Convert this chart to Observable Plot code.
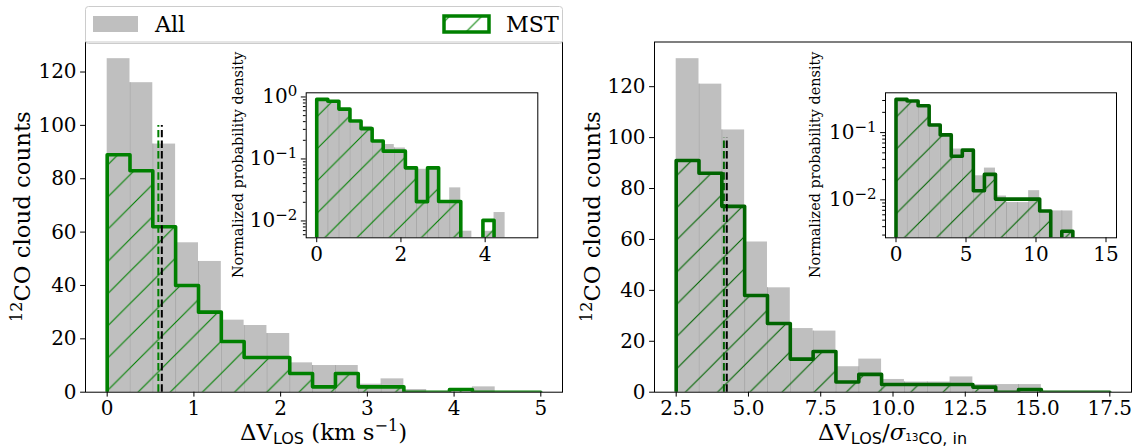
<!DOCTYPE html>
<html><head><meta charset="utf-8">
<script src="https://cdn.jsdelivr.net/npm/d3@7"></script>
<script src="https://cdn.jsdelivr.net/npm/@observablehq/plot@0.6"></script>
<style>
body{margin:0;background:#fff;}
#root{position:relative;width:1133px;height:448px;overflow:hidden;font-family:"DejaVu Serif",serif;}
#root svg{position:absolute;overflow:visible;max-width:none;}
</style></head><body><div id="root"></div>
<script>
// ---------- data ----------
const legendLabels = ["All", "MST"];
const leftEdges = [0, 0.263, 0.526, 0.789, 1.053, 1.316, 1.579, 1.842, 2.105, 2.368, 2.632, 2.895, 3.158, 3.421, 3.684, 3.947, 4.211, 4.474, 4.737, 5];
const leftAll = [125, 116, 93, 56, 49, 27, 25, 22, 11, 10, 10, 3, 5, 1, 0, 1, 2, 0, 0];
const leftMST = [89, 83, 62, 40, 30, 19, 13, 13, 7, 2, 7, 2, 2, 0, 0, 1, 0, 0, 0];
const rightEdges = [2.5, 3.289, 4.079, 4.868, 5.658, 6.447, 7.237, 8.026, 8.816, 9.605, 10.395, 11.184, 11.974, 12.763, 13.553, 14.342, 15.132, 15.921, 16.711, 17.5];
const insetRightEdges = [0, 0.789, 1.579, 2.368, 3.158, 3.947, 4.737, 5.526, 6.316, 7.105, 7.895, 8.684, 9.474, 10.263, 11.053, 11.842, 12.632, 13.421, 14.211, 15];
const rightAll = [131, 121, 103, 59, 41, 25, 24, 10, 13, 5, 4, 4, 6, 3, 3, 3, 0, 0, 0];
const rightMST = [91, 86, 73, 38, 27, 13, 16, 4, 7, 3, 3, 3, 3, 2, 0, 1, 0, 0, 0];
const leftMedians = {mst: 0.59, all: 0.63};
const rightMedians = {mst: 4.15, all: 4.25};
const medianTop = 100;
const yTicks = [0, 20, 40, 60, 80, 100, 120];
const leftXTicks = [0, 1, 2, 3, 4, 5];
const rightXTicks = [2.5, 5, 7.5, 10, 12.5, 15, 17.5];
const insetLeftXTicks = [0, 2, 4];
const insetRightXTicks = [0, 5, 10, 15];
const insetLeftYTicks = [1, 0.1, 0.01];
const insetLeftYExps = ["0", "−1", "−2"];
const insetRightYTicks = [0.1, 0.01];
const insetRightYExps = ["−1", "−2"];

// ---------- style ----------
const GRAY = "#bfbfbf", EDGE = "#a9a9a9";
const GREEN_L = "#008000", GREEN_R = "#006400";
const FONT = "'DejaVu Serif', serif";
const TICK_FS = 20, LABEL_FS = 22.8, INSET_LABEL_FS = 14.4;
const HATCH = 32.2, HATCH_PHASE = 15;
const FLOOR = 1e-5;
const root = d3.select("#root");

function bars(edges, counts) {
  return counts.map((c, i) => ({x1: edges[i], x2: edges[i + 1], y: c})).filter(d => d.y > 0);
}
function seps(edges, counts) {
  const out = [];
  for (let k = 1; k < counts.length; k++) {
    const m = Math.min(counts[k - 1], counts[k]);
    if (m > 0) out.push({x: edges[k], y: m});
  }
  return out;
}
function step(edges, counts, floor) {
  const pts = [{x: edges[0], y: floor}];
  counts.forEach((c, i) => pts.push({x: edges[i], y: c > 0 ? c : floor}));
  pts.push({x: edges[edges.length - 1], y: floor});
  return pts;
}
function density(edges, counts) {
  const n = d3.sum(counts);
  return counts.map((c, i) => c / (n * (edges[i + 1] - edges[i])));
}
function hatchDef(id, color, left, top) {
  const tx = (((HATCH_PHASE - left - top) % HATCH) + HATCH) % HATCH;
  return `<pattern id="${id}" patternUnits="userSpaceOnUse" width="${HATCH}" height="${HATCH}" patternTransform="translate(${tx},0)">` +
    `<path d="M-2,2 L2,-2 M0,${HATCH} L${HATCH},0 M${HATCH - 2},${HATCH + 2} L${HATCH + 2},${HATCH - 2}" stroke="${color}" stroke-width="1.1" fill="none"/></pattern>`;
}
function place(svg, left, top) {
  svg.style.left = left + "px";
  svg.style.top = top + "px";
  root.node().appendChild(svg);
}

const TOP = 41.5, BOTTOM = 391.7;

function mainPlot(o) {
  const svg = Plot.plot({
    width: o.width, height: 448,
    marginLeft: o.ml, marginRight: o.mr, marginTop: TOP, marginBottom: 448 - BOTTOM,
    x: {domain: o.xDomain},
    y: {domain: o.yDomain},
    style: {fontFamily: FONT, fontSize: TICK_FS + "px", color: "black", background: "transparent", overflow: "visible"},
    marks: [
      Plot.rectY(bars(o.edges, o.all), {x1: "x1", x2: "x2", y1: 0, y2: "y", fill: GRAY}),
      Plot.ruleX(seps(o.edges, o.all), {x: "x", y1: 0, y2: "y", stroke: EDGE, strokeWidth: 1}),
      Plot.area(step(o.edges, o.mst, 0), {x1: "x", y1: 0, y2: "y", curve: "step-after", fill: `url(#${o.hatch})`}),
      Plot.line(step(o.edges, o.mst, 0), {x: "x", y: "y", curve: "step-after", stroke: o.green, strokeWidth: 3.6, clip: true}),
      Plot.ruleX([o.medians.mst], {y1: 0, y2: medianTop, stroke: o.green, strokeWidth: 2, strokeDasharray: "7.4,3.2"}),
      Plot.ruleX([o.medians.all], {y1: 0, y2: medianTop, stroke: "black", strokeWidth: 2, strokeDasharray: "7.4,3.2"}),
      Plot.axisX({ticks: o.xTicks, tickFormat: o.xFmt, tickSize: 4.9, tickPadding: 4, label: null, fontSize: TICK_FS}),
      Plot.axisY({ticks: yTicks, tickFormat: d => String(d), tickSize: 4.9, tickPadding: 4, label: null, fontSize: TICK_FS}),
      Plot.frame({stroke: "black", strokeWidth: 1})
    ]
  });
  d3.select(svg).insert("defs", ":first-child").html(hatchDef(o.hatch, o.green, o.left, 0));
  place(svg, o.left, 0);
  return svg;
}

function insetPlot(o) {
  const dAll = density(o.edges, o.all), dMst = density(o.edges, o.mst);
  const minor = [];
  for (let e = -4; e <= 0; e++) for (let m = 2; m <= 9; m++) {
    const v = m * Math.pow(10, e);
    if (v > o.yDomain[0] && v < o.yDomain[1]) minor.push(v);
  }
  const svg = Plot.plot({
    width: o.width, height: o.height,
    marginLeft: o.ml, marginRight: o.mr, marginTop: o.mt, marginBottom: o.mb,
    x: {domain: o.xDomain},
    y: {type: "log", domain: o.yDomain},
    style: {fontFamily: FONT, fontSize: TICK_FS + "px", color: "black", background: "transparent", overflow: "visible"},
    marks: [
      Plot.frame({fill: "white", stroke: "none"}),
      Plot.rectY(bars(o.edges, dAll), {x1: "x1", x2: "x2", y1: FLOOR, y2: "y", fill: GRAY, clip: true}),
      Plot.ruleX(seps(o.edges, dAll), {x: "x", y1: FLOOR, y2: "y", stroke: EDGE, strokeWidth: 1, clip: true}),
      Plot.area(step(o.edges, dMst, FLOOR), {x1: "x", y1: FLOOR, y2: "y", curve: "step-after", fill: `url(#${o.hatch})`, clip: true}),
      Plot.line(step(o.edges, dMst, FLOOR), {x: "x", y: "y", curve: "step-after", stroke: o.green, strokeWidth: 3.6, clip: true}),
      Plot.axisX({ticks: o.xTicks, tickFormat: d => String(d), tickSize: 4.9, tickPadding: 4, label: null, fontSize: TICK_FS}),
      Plot.axisY({ticks: o.yTicks, tickFormat: d => "10^" + o.yExps[o.yTicks.indexOf(d)], tickSize: 4.9, tickPadding: 4, label: null, fontSize: TICK_FS}),
      Plot.axisY({ticks: minor, tickFormat: () => "", tickSize: 2.8, tickPadding: 0, label: null}),
      Plot.frame({stroke: "black", strokeWidth: 1})
    ]
  });
  const s = d3.select(svg);
  s.insert("defs", ":first-child").html(hatchDef(o.hatch, o.green, o.left, o.top));
  s.selectAll("text").each(function () {
    const str = this.textContent;
    if (str.startsWith("10^")) {
      this.textContent = "10";
      d3.select(this).append("tspan").attr("dy", "-0.5em").attr("font-size", 15).text(str.slice(3));
    }
  });
  place(svg, o.left, o.top);
  s.append("text")
    .attr("transform", `translate(${o.labelX},${o.mt + (o.height - o.mt - o.mb) / 2}) rotate(-90)`)
    .attr("text-anchor", "middle").attr("font-size", INSET_LABEL_FS).attr("font-family", FONT).attr("fill", "black")
    .text("Normalized probability density");
  return svg;
}

function yLabel(svg, x) {
  const t = d3.select(svg).append("text")
    .attr("transform", `translate(${x},${(TOP + BOTTOM) / 2}) rotate(-90)`)
    .attr("text-anchor", "middle").attr("font-size", LABEL_FS).attr("font-family", FONT).attr("fill", "black");
  t.append("tspan").attr("font-size", 16).attr("dy", -8).text("12");
  t.append("tspan").attr("dy", 8).text("CO cloud counts");
}

// ---------- left panel ----------
const L = mainPlot({
  left: 0, width: 566, ml: 85, mr: 4,
  edges: leftEdges, all: leftAll, mst: leftMST,
  xDomain: [-0.25, 5.25], yDomain: [0, 131.25],
  xTicks: leftXTicks, xFmt: d => String(d), medians: leftMedians,
  green: GREEN_L, hatch: "hatchL"
});
yLabel(L, 30);
{
  const t = d3.select(L).append("text").attr("x", (85 + 562) / 2).attr("y", 440)
    .attr("text-anchor", "middle").attr("font-size", LABEL_FS).attr("font-family", FONT).attr("fill", "black");
  t.append("tspan").text("ΔV");
  t.append("tspan").attr("dy", 3.5).attr("font-size", 16).attr("font-family", "'DejaVu Sans', sans-serif").text("LOS");
  t.append("tspan").attr("dy", -3.5).text(" (km s");
  t.append("tspan").attr("dy", -9).attr("font-size", 16).text("−1");
  t.append("tspan").attr("dy", 9).text(")");
}

// ---------- right panel ----------
const R = mainPlot({
  left: 566, width: 567, ml: 88, mr: 2,
  edges: rightEdges, all: rightAll, mst: rightMST,
  xDomain: [1.75, 18.25], yDomain: [0, 137.55],
  xTicks: rightXTicks, xFmt: d3.format(".1f"), medians: rightMedians,
  green: GREEN_R, hatch: "hatchR"
});
yLabel(R, 600 - 566);
{
  const t = d3.select(R).append("text").attr("x", (654 + 1131) / 2 - 566).attr("y", 440)
    .attr("text-anchor", "middle").attr("font-size", LABEL_FS).attr("font-family", FONT).attr("fill", "black");
  t.append("tspan").text("ΔV");
  t.append("tspan").attr("dy", 3.5).attr("font-size", 16).attr("font-family", "'DejaVu Sans', sans-serif").text("LOS");
  t.append("tspan").attr("dy", -3.5).text("/");
  t.append("tspan").attr("font-style", "italic").text("σ");
  t.append("tspan").attr("dy", 0.5).attr("font-size", 10.5).attr("font-family", "'DejaVu Sans', sans-serif").text("13");
  t.append("tspan").attr("dy", 3).attr("font-size", 16).attr("font-family", "'DejaVu Sans', sans-serif").text("CO, in");
}

// ---------- insets ----------
insetPlot({
  left: 220, top: 60, width: 340, height: 215, ml: 85.7, mr: 22.7, mt: 32.3, mb: 37.7,
  edges: leftEdges, all: leftAll, mst: leftMST,
  xDomain: [-0.25, 5.25], yDomain: [0.005352, 1.1674],
  xTicks: insetLeftXTicks, yTicks: insetLeftYTicks, yExps: insetLeftYExps,
  green: GREEN_L, hatch: "hatchLI", labelX: 23
});
insetPlot({
  left: 800, top: 60, width: 333, height: 215, ml: 85, mr: 17, mt: 32.3, mb: 37.7,
  edges: insetRightEdges, all: rightAll, mst: rightMST,
  xDomain: [-0.75, 15.75], yDomain: [0.002732, 0.3904],
  xTicks: insetRightXTicks, yTicks: insetRightYTicks, yExps: insetRightYExps,
  green: GREEN_R, hatch: "hatchRI", labelX: 20
});

// ---------- legend ----------
{
  const lg = root.append("svg").attr("width", 480).attr("height", 40)
    .style("left", "84px").style("top", "5px");
  lg.append("defs").html(hatchDef("hatchLeg", GREEN_L, 84, 5));
  lg.append("rect").attr("x", 1.5).attr("y", 1.5).attr("width", 477).attr("height", 37).attr("rx", 3)
    .attr("fill", "rgba(255,255,255,0.8)").attr("stroke", "#cccccc").attr("stroke-width", 1);
  lg.append("rect").attr("x", 9).attr("y", 11).attr("width", 45).attr("height", 16).attr("fill", GRAY);
  lg.append("text").attr("x", 71).attr("y", 27).attr("font-size", 22.2).attr("font-family", FONT).text(legendLabels[0]);
  lg.append("rect").attr("x", 360).attr("y", 11).attr("width", 45).attr("height", 16)
    .attr("fill", "url(#hatchLeg)").attr("stroke", GREEN_L).attr("stroke-width", 3.5);
  lg.append("text").attr("x", 422).attr("y", 27).attr("font-size", 22.2).attr("font-family", FONT).text(legendLabels[1]);
}
</script></body></html>
